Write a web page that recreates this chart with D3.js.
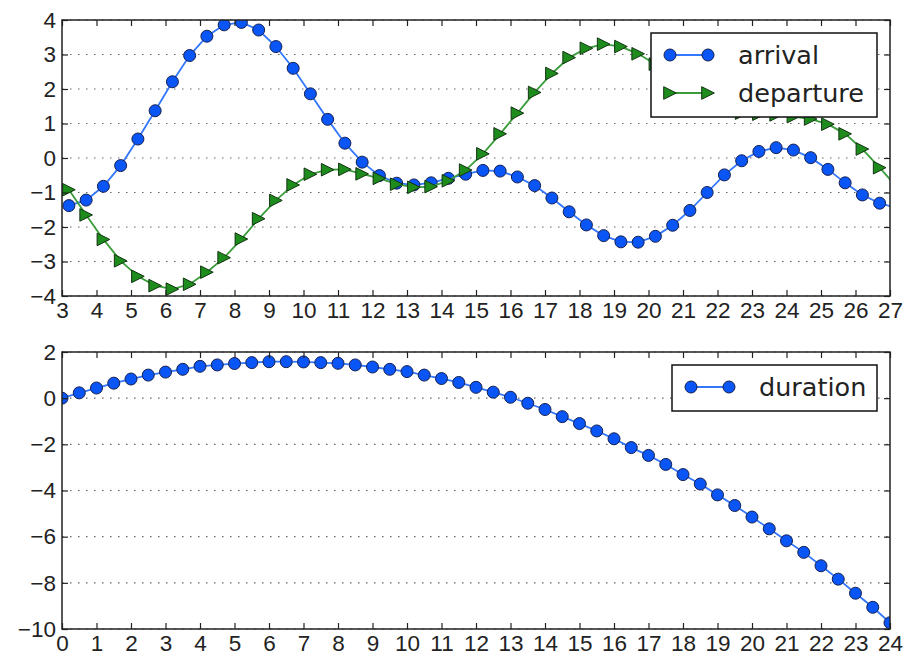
<!DOCTYPE html>
<html>
<head>
<meta charset="utf-8">
<script src="https://cdn.jsdelivr.net/npm/d3@7"></script>
<style>
  body { margin: 0; background: #fff; }
  svg { display: block; font-family: "DejaVu Sans", sans-serif; }
  .tick text { fill: #222; }
</style>
</head>
<body>
<script>
// top panel x values and series
var topX = [3.2, 3.7, 4.2, 4.7, 5.2, 5.7, 6.2, 6.7, 7.2, 7.7, 8.2, 8.7, 9.2, 9.7, 10.2, 10.7,
  11.2, 11.7, 12.2, 12.7, 13.2, 13.7, 14.2, 14.7, 15.2, 15.7, 16.2, 16.7, 17.2, 17.7, 18.2, 18.7,
  19.2, 19.7, 20.2, 20.7, 21.2, 21.7, 22.2, 22.7, 23.2, 23.7, 24.2, 24.7, 25.2, 25.7, 26.2, 26.7, 27.2];
var arrival = [-1.38, -1.22, -0.82, -0.22, 0.55, 1.37, 2.21, 2.97, 3.53, 3.86, 3.93, 3.71,
  3.23, 2.6, 1.86, 1.12, 0.43, -0.12, -0.51, -0.73, -0.78, -0.72, -0.59, -0.47,
  -0.36, -0.38, -0.55, -0.8, -1.16, -1.56, -1.94, -2.25, -2.43, -2.44, -2.27, -1.95,
  -1.52, -1.0, -0.49, -0.08, 0.19, 0.3, 0.23, 0.01, -0.33, -0.72, -1.07, -1.31, -1.45];
var departure = [-0.92, -1.65, -2.36, -2.98, -3.43, -3.7, -3.8, -3.66, -3.31, -2.89, -2.35, -1.76,
  -1.23, -0.78, -0.47, -0.34, -0.33, -0.46, -0.59, -0.76, -0.85, -0.83, -0.66, -0.35,
  0.12, 0.7, 1.3, 1.9, 2.45, 2.91, 3.18, 3.3, 3.23, 3.02, 2.72, 2.35,
  1.97, 1.65, 1.42, 1.3, 1.27, 1.25, 1.2, 1.13, 0.98, 0.7, 0.26, -0.28, -0.85];
var topXTicks = [3, 4, 5, 6, 7, 8, 9, 10, 11, 12, 13, 14, 15, 16, 17, 18, 19, 20, 21, 22, 23, 24, 25, 26, 27];
var topYTicks = [-4, -3, -2, -1, 0, 1, 2, 3, 4];

// bottom panel
var bottomX = [0, 0.5, 1, 1.5, 2, 2.5, 3, 3.5, 4, 4.5, 5, 5.5, 6, 6.5, 7, 7.5, 8, 8.5, 9, 9.5,
  10, 10.5, 11, 11.5, 12, 12.5, 13, 13.5, 14, 14.5, 15, 15.5, 16, 16.5, 17, 17.5, 18, 18.5,
  19, 19.5, 20, 20.5, 21, 21.5, 22, 22.5, 23, 23.5, 24];
var duration = [0, 0.23, 0.44, 0.65, 0.83, 1.0, 1.13, 1.25, 1.38, 1.44, 1.5, 1.54,
  1.58, 1.58, 1.57, 1.54, 1.51, 1.44, 1.35, 1.25, 1.15, 1.0, 0.85, 0.68,
  0.47, 0.26, 0.04, -0.22, -0.49, -0.8, -1.1, -1.42, -1.76, -2.14, -2.48, -2.87,
  -3.31, -3.72, -4.19, -4.65, -5.15, -5.66, -6.18, -6.68, -7.26, -7.84, -8.45, -9.06, -9.73];
var bottomXTicks = [0, 1, 2, 3, 4, 5, 6, 7, 8, 9, 10, 11, 12, 13, 14, 15, 16, 17, 18, 19, 20, 21, 22, 23, 24];
var bottomYTicks = [-10, -8, -6, -4, -2, 0, 2];

var width = 906, height = 655;
var fmt = function(d){ return d < 0 ? "\u2212" + Math.abs(d) : String(d); };

var blue = {line: "#3377ff", fill: "#0a55f5", edge: "#162050", shape: "circle"};
var green = {line: "#3a9c3a", fill: "#1d8c1d", edge: "#123312", shape: "tri"};

var svg = d3.select("body").append("svg")
  .attr("width", width)
  .attr("height", height);

function marker(g, style, x, y) {
  if (style.shape == "circle") {
    g.append("circle").attr("cx", x).attr("cy", y).attr("r", 6)
      .attr("fill", style.fill).attr("stroke", style.edge).attr("stroke-width", 1);
  } else {
    var s = 6.3;
    g.append("path")
      .attr("d", "M" + (x + s) + "," + y + "L" + (x - s) + "," + (y - s) + "L" + (x - s) + "," + (y + s) + "Z")
      .attr("fill", style.fill).attr("stroke", style.edge).attr("stroke-width", 1);
  }
}

function panel(opt) {
  var x = d3.scaleLinear().domain(opt.xDomain).range([0, opt.w]);
  var y = d3.scaleLinear().domain(opt.yDomain).range([opt.h, 0]);
  var g = svg.append("g").attr("transform", "translate(" + opt.left + "," + opt.top + ")");

  // dotted horizontal grid
  g.append("g").selectAll("line").data(opt.yTicks).enter().append("line")
    .attr("x1", 0).attr("x2", opt.w)
    .attr("y1", function(d){ return y(d); }).attr("y2", function(d){ return y(d); })
    .attr("stroke", "#666").attr("stroke-width", 1.1)
    .attr("stroke-dasharray", "1.5,6.5");

  var clipId = "clip" + opt.id;
  g.append("clipPath").attr("id", clipId).append("rect")
    .attr("width", opt.w).attr("height", opt.h);
  var plot = g.append("g").attr("clip-path", "url(#" + clipId + ")");

  opt.series.forEach(function(s) {
    var pts = opt.xs.map(function(v, i){ return [v, s.values[i]]; });
    var line = d3.line()
      .x(function(d){ return x(d[0]); })
      .y(function(d){ return y(d[1]); });
    plot.append("path").attr("d", line(pts))
      .attr("fill", "none").attr("stroke", s.style.line).attr("stroke-width", 1.8);
    pts.forEach(function(p){ marker(plot, s.style, x(p[0]), y(p[1])); });
  });

  // axes with inward ticks on all four sides
  var axisStyle = function(a) {
    a.select(".domain").remove();
    a.selectAll(".tick line").attr("stroke", "#222").attr("stroke-width", 1.2);
    a.selectAll(".tick text").attr("font-size", 22.5);
  };
  g.append("g").attr("transform", "translate(0," + opt.h + ")")
    .call(d3.axisBottom(x).tickValues(opt.xTicks).tickFormat(fmt).tickSize(-6).tickPadding(6))
    .call(axisStyle);
  g.append("g")
    .call(d3.axisTop(x).tickValues(opt.xTicks).tickFormat("").tickSize(-6))
    .call(axisStyle);
  g.append("g")
    .call(d3.axisLeft(y).tickValues(opt.yTicks).tickFormat(fmt).tickSize(-6).tickPadding(6))
    .call(axisStyle);
  g.append("g").attr("transform", "translate(" + opt.w + ",0)")
    .call(d3.axisRight(y).tickValues(opt.yTicks).tickFormat("").tickSize(-6))
    .call(axisStyle);

  g.append("rect").attr("width", opt.w).attr("height", opt.h)
    .attr("fill", "none").attr("stroke", "#222").attr("stroke-width", 1.5);

  // legend
  var lg = g.append("g").attr("transform", "translate(" + (opt.w - opt.legW - 13) + ",13)");
  var rowH = 38;
  lg.append("rect").attr("width", opt.legW).attr("height", opt.series.length * rowH + 8)
    .attr("fill", "#fff").attr("stroke", "#111").attr("stroke-width", 1.5);
  opt.series.forEach(function(s, i) {
    var cy = 22 + i * rowH;
    lg.append("line").attr("x1", 19).attr("x2", 57).attr("y1", cy).attr("y2", cy)
      .attr("stroke", s.style.line).attr("stroke-width", 1.8);
    marker(lg, s.style, 19, cy);
    marker(lg, s.style, 57, cy);
    lg.append("text").attr("x", 87).attr("y", cy).attr("dy", "0.35em")
      .attr("font-size", 25.5).attr("fill", "#222").text(s.name);
  });
}

panel({
  id: "top", left: 62, top: 20, w: 828, h: 276,
  xDomain: [3, 27], yDomain: [-4, 4],
  xTicks: topXTicks, yTicks: topYTicks, xs: topX, legW: 226,
  series: [
    {name: "arrival", values: arrival, style: blue},
    {name: "departure", values: departure, style: green}
  ]
});

panel({
  id: "bottom", left: 62, top: 352, w: 828, h: 277,
  xDomain: [0, 24], yDomain: [-10, 2],
  xTicks: bottomXTicks, yTicks: bottomYTicks, xs: bottomX, legW: 205,
  series: [
    {name: "duration", values: duration, style: blue}
  ]
});
</script>
</body>
</html>
